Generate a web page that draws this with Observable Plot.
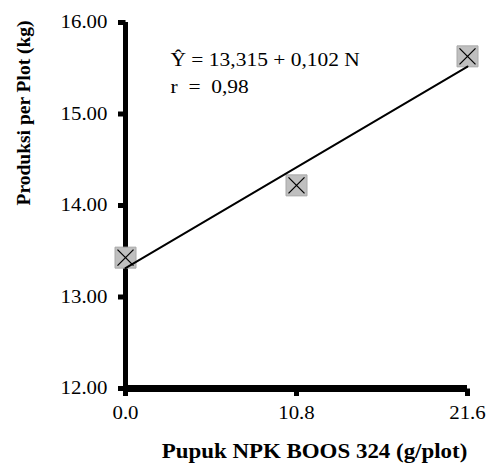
<!DOCTYPE html>
<html>
<head>
<meta charset="utf-8">
<script src="https://cdn.jsdelivr.net/npm/d3@7"></script>
<script src="https://cdn.jsdelivr.net/npm/@observablehq/plot@0.6"></script>
<style>
  html, body { margin: 0; padding: 0; background: #fff; }
</style>
</head>
<body>
<div id="chart"></div>
<script>
const dose = [0, 10.8, 21.6];
const yieldKg = [13.43, 14.22, 15.63];
const xTicks = [0, 10.8, 21.6];
const yTicks = [12, 13, 14, 15, 16];
const intercept = 13.315;
const slope = 0.102;
const eqLines = ["Ŷ = 13,315 + 0,102 N", "r\u00a0 =\u00a0 0,98"];
const xTitle = "Pupuk NPK BOOS 324 (g/plot)";
const yTitle = "Produksi per Plot (kg)";

const points = dose.map((d, i) => ({x: d, y: yieldKg[i]}));
const xr = [d3.min(dose), d3.max(dose)];
const fit = xr.map(x => ({x, y: intercept + slope * x}));

const font = "'Liberation Serif', 'Times New Roman', serif";

const squareSym = {draw(ctx) { ctx.rect(-10.5, -10.5, 21, 21); }};
const crossSym = {draw(ctx) { ctx.moveTo(-8, -8); ctx.lineTo(8, 8); ctx.moveTo(-8, 8); ctx.lineTo(8, -8); }};
const yTickSym = {draw(ctx) { ctx.rect(-7.5, -2.5, 7.5, 5); }};
const xTickSym = {draw(ctx) { ctx.rect(-2.5, 0, 5, 7.5); }};

const chart = Plot.plot({
  width: 487,
  height: 464,
  marginLeft: 125,
  marginRight: 20,
  marginTop: 22,
  marginBottom: 76,
  x: {domain: [0, 21.6], axis: null},
  y: {domain: [12, 16], axis: null},
  style: {fontFamily: font, background: "white", color: "black"},
  marks: [
    // axis lines
    Plot.ruleX([0], {y1: 12, y2: 16, stroke: "black", strokeWidth: 5}),
    Plot.ruleY([12], {x1: 0, x2: 21.6, stroke: "black", strokeWidth: 7}),
    // ticks
    Plot.dot(yTicks, {x: () => 0, y: d => d, symbol: yTickSym, fill: "black", stroke: null, r: 1}),
    Plot.dot(xTicks, {x: d => d, y: () => 12, symbol: xTickSym, fill: "black", stroke: null, r: 1}),
    // tick labels
    Plot.text(yTicks, {x: () => 0, y: d => d, text: d3.format(".2f"), dx: -18, textAnchor: "end", lineAnchor: "middle", fontSize: 18.5, fontFamily: font, fill: "black"}),
    Plot.text(xTicks, {x: d => d, y: () => 12, text: d3.format(".1f"), dy: 17, textAnchor: "middle", lineAnchor: "top", fontSize: 18.5, fontFamily: font, fill: "black"}),
    // data markers
    Plot.dot(points, {x: "x", y: "y", symbol: squareSym, r: 1, fill: "#bfbfbf", stroke: "#a8a8a8", strokeWidth: 1}),
    Plot.dot(points, {x: "x", y: "y", symbol: crossSym, r: 1, fill: "none", stroke: "black", strokeWidth: 1.3}),
    // regression line
    Plot.line(fit, {x: "x", y: "y", stroke: "black", strokeWidth: 2}),
    // equation
    Plot.text([eqLines.join("\n")], {frameAnchor: "top-left", dx: 45, dy: 24.5, lineAnchor: "top", textAnchor: "start", lineHeight: 1.42, fontSize: 19, fontFamily: font, fill: "black"}),
    // axis titles
    Plot.text([xTitle], {frameAnchor: "bottom", dx: 18, dy: 63, lineAnchor: "middle", fontWeight: "bold", fontSize: 20.3, fontFamily: font, fill: "black"}),
    Plot.text([yTitle], {frameAnchor: "left", dx: -102, rotate: -90, lineAnchor: "middle", fontWeight: "bold", fontSize: 19.5, fontFamily: font, fill: "black"})
  ]
});

// the reference typesetting is slightly wide: stretch horizontal text a little around its anchor
chart.querySelectorAll("text").forEach(t => {
  const tr = t.getAttribute("transform") || "";
  if (tr.includes("rotate")) return;
  t.setAttribute("transform", (tr + " scale(1.13,1)").trim());
});

document.getElementById("chart").appendChild(chart);
</script>
</body>
</html>
